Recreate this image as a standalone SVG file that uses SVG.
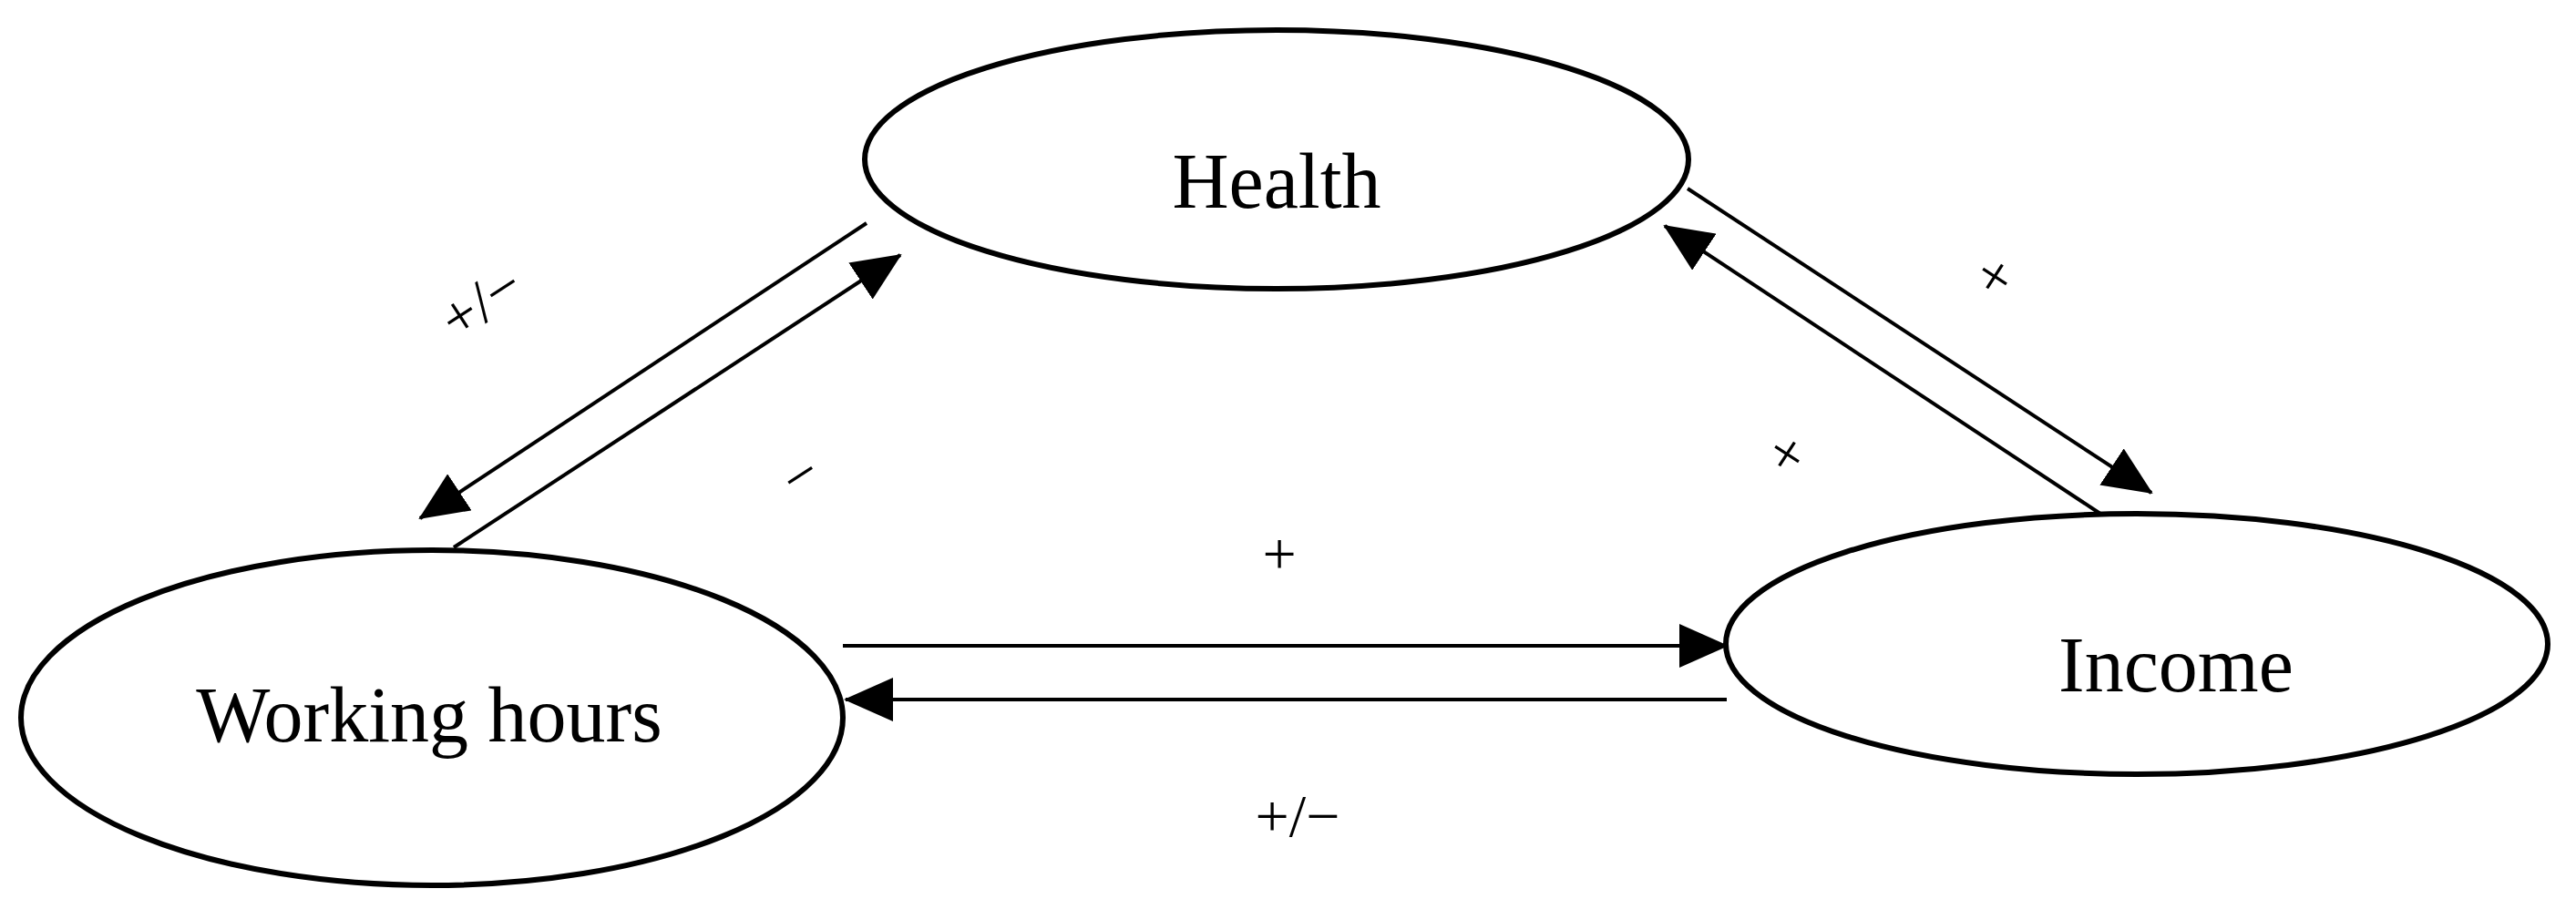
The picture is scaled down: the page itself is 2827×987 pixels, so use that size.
<svg xmlns="http://www.w3.org/2000/svg" width="2827" height="987" viewBox="0 0 2827 987">
<style>
.n{fill:#fff;stroke:#000;stroke-width:6}
.t{font-family:"Liberation Serif",serif;font-size:86px;text-anchor:middle;fill:#000}
.l{font-family:"Liberation Serif",serif;font-size:66px;text-anchor:middle;fill:#000}
.c{stroke:#000;stroke-width:4;fill:none;marker-end:url(#a)}
</style>
<defs><marker id="a" markerUnits="userSpaceOnUse" markerWidth="54" markerHeight="48" refX="52" refY="24" orient="auto"><path d="M0,0L54,24L0,48Z" fill="#000"/></marker></defs>
<rect width="2827" height="987" fill="#fff"/>
<g id="connectors">
<line class="c" x1="925" y1="709" x2="1895" y2="709"/>
<line class="c" x1="1895" y1="768" x2="928" y2="768"/>
<line class="c" x1="951" y1="245" x2="461" y2="569"/>
<line class="c" x1="498" y1="601" x2="988" y2="280"/>
<line class="c" x1="1852" y1="207" x2="2361" y2="541"/>
<line class="c" x1="2305" y1="564" x2="1827" y2="248"/>
</g>
<g id="health"><ellipse class="n" cx="1401" cy="175" rx="452" ry="142"/><text class="t" x="1401" y="228">Health</text></g>
<g id="working"><ellipse class="n" cx="474" cy="788" rx="451" ry="184"/><text class="t" x="471" y="814">Working hours</text></g>
<g id="income"><ellipse class="n" cx="2345" cy="707" rx="451" ry="143"/><text class="t" x="2388" y="759">Income</text></g>
<g id="labels">
<text class="l" transform="translate(540,350) rotate(-33)">+/−</text>
<text class="l" transform="translate(890,540) rotate(-33)">−</text>
<text class="l" transform="translate(2177,322) rotate(33)">+</text>
<text class="l" transform="translate(1949,517) rotate(33)">+</text>
<text class="l" x="1404" y="630">+</text>
<text class="l" x="1424" y="918">+/−</text>
</g>
</svg>
